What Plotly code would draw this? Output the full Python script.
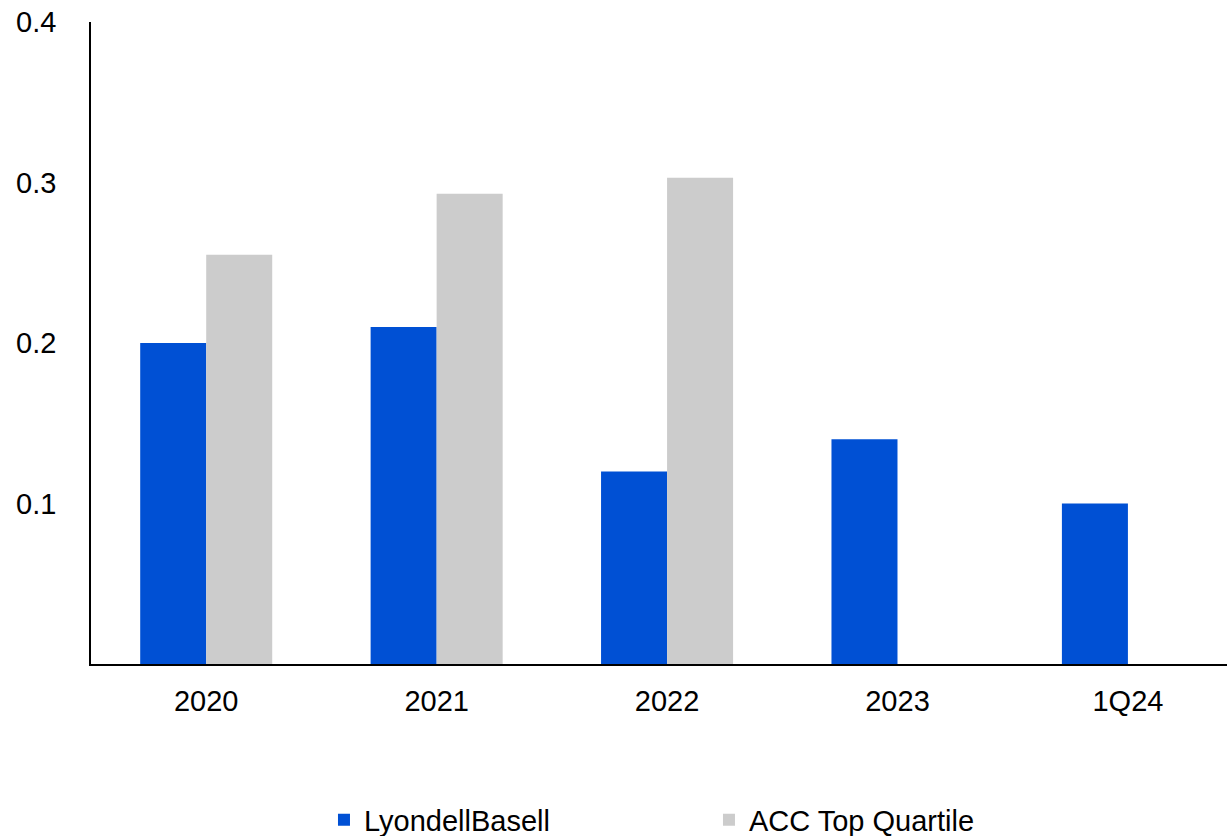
import plotly.graph_objects as go

categories = ["2020", "2021", "2022", "2023", "1Q24"]
lyb_values = [0.20, 0.21, 0.12, 0.14, 0.10]
acc_values = [0.255, 0.293, 0.303, None, None]
y_tick_vals = [0.1, 0.2, 0.3, 0.4]
y_tick_text = ["0.1", "0.2", "0.3", "0.4"]

FONT = "Liberation Sans, Arial, sans-serif"
FS = 29

fig = go.Figure()
fig.add_trace(go.Bar(x=categories, y=lyb_values, name="LyondellBasell",
                     marker=dict(color="#0050D4", line=dict(width=0))))
fig.add_trace(go.Bar(x=categories, y=acc_values, name="ACC Top Quartile",
                     marker=dict(color="#CCCCCC", line=dict(width=0))))

fig.update_layout(
    width=1227, height=836,
    margin=dict(l=91, r=0, t=22, b=172),
    paper_bgcolor="white", plot_bgcolor="white",
    font=dict(family=FONT, size=FS, color="black"),
    barmode="group", bargap=0.427, bargroupgap=0,
    showlegend=True,
    legend=dict(orientation="h", x=0.544, xanchor="center",
                y=16 / 836, yanchor="middle", yref="container",
                entrywidth=340, entrywidthmode="pixels",
                font=dict(family=FONT, size=FS, color="black"),
                itemwidth=30),
    xaxis=dict(range=[-0.5, 4.43], showline=True, linecolor="black", linewidth=1.5,
               showgrid=False, zeroline=False, ticks="", ticklabelstandoff=10,
               automargin=False,
               tickfont=dict(family=FONT, size=FS, color="black")),
    yaxis=dict(range=[0, 0.4], showline=True, linecolor="black", linewidth=1.5,
               showgrid=False, zeroline=False, ticks="", automargin=False,
               tickvals=y_tick_vals, ticktext=y_tick_text, ticklabelstandoff=27,
               tickfont=dict(family=FONT, size=FS, color="black")),
)

fig.write_html("out.html")
